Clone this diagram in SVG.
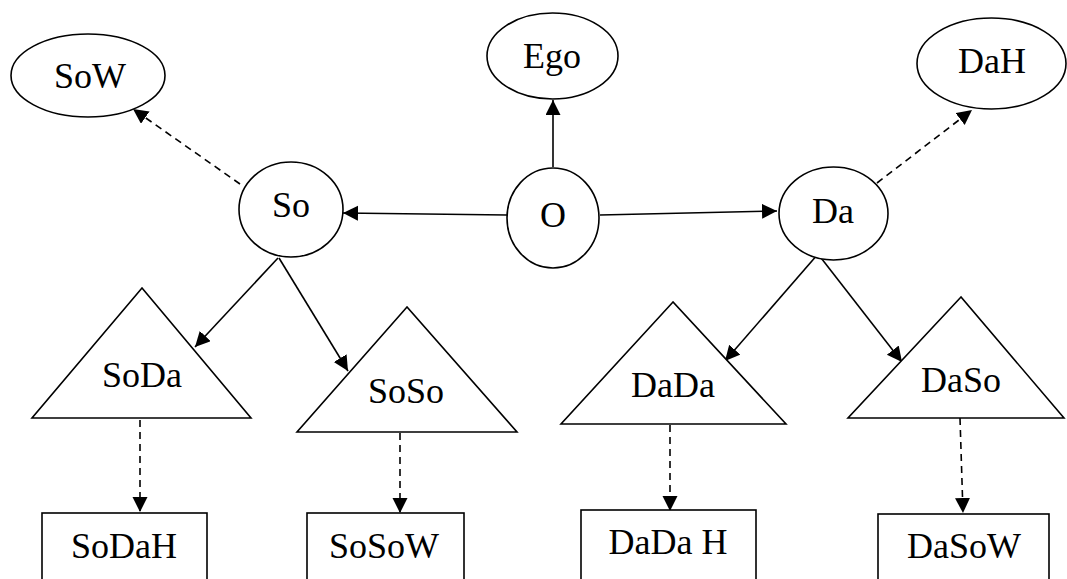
<svg xmlns="http://www.w3.org/2000/svg" width="1067" height="579" viewBox="0 0 1067 579">
  <style>
    .shape { fill: #fff; stroke: #000; stroke-width: 1.6; }
    .lbl { font-family: "Liberation Serif", "Times New Roman", serif; font-size: 36px; fill: #000; text-anchor: middle; }
    .edge { fill: none; stroke: #000; stroke-width: 1.6; marker-end: url(#arrow); }
    .dash { stroke-dasharray: 7 5; }
  </style>
  <defs>
    <marker id="arrow" markerUnits="userSpaceOnUse" markerWidth="16" markerHeight="16" refX="15" refY="7.5" orient="auto">
      <path d="M0,0 L15,7.5 L0,15 Z" fill="#000"/>
    </marker>
  </defs>
  <rect width="1067" height="579" fill="#fff"/>

  <!-- connectors -->
  <g id="connectors">
    <line class="edge" x1="553" y1="167" x2="553" y2="100"/>
    <line class="edge" x1="507" y1="215" x2="343" y2="213"/>
    <line class="edge" x1="600" y1="215" x2="777" y2="211"/>
    <line class="edge dash" x1="240" y1="184" x2="133" y2="109"/>
    <line class="edge dash" x1="877" y1="183" x2="972" y2="110"/>
    <line class="edge" x1="278" y1="258" x2="195" y2="347"/>
    <line class="edge" x1="279" y1="258" x2="348" y2="371"/>
    <line class="edge" x1="818" y1="254" x2="725" y2="361"/>
    <line class="edge" x1="818" y1="254" x2="902" y2="362"/>
    <line class="edge dash" x1="140" y1="420" x2="140" y2="512"/>
    <line class="edge dash" x1="400" y1="433" x2="400" y2="513"/>
    <line class="edge dash" x1="670" y1="425" x2="670" y2="511"/>
    <line class="edge dash" x1="960" y1="418" x2="963" y2="513"/>
  </g>

  <!-- ellipse nodes -->
  <g id="node-ego">
    <ellipse class="shape" cx="552.5" cy="56" rx="65.5" ry="43"/>
    <text class="lbl" x="552" y="68">Ego</text>
  </g>
  <g id="node-sow">
    <ellipse class="shape" cx="88" cy="75.5" rx="77" ry="41.5"/>
    <text class="lbl" x="90" y="88">SoW</text>
  </g>
  <g id="node-dah">
    <ellipse class="shape" cx="991.5" cy="63.5" rx="74.5" ry="45.5"/>
    <text class="lbl" x="992" y="73">DaH</text>
  </g>
  <g id="node-o">
    <ellipse class="shape" cx="553" cy="218" rx="46" ry="50"/>
    <text class="lbl" x="553" y="227">O</text>
  </g>
  <g id="node-so">
    <ellipse class="shape" cx="291" cy="209.5" rx="52" ry="47.5"/>
    <text class="lbl" x="291" y="217">So</text>
  </g>
  <g id="node-da">
    <ellipse class="shape" cx="833.5" cy="213.5" rx="54.5" ry="46.5"/>
    <text class="lbl" x="833" y="223">Da</text>
  </g>

  <!-- triangle nodes -->
  <g id="node-soda">
    <polygon class="shape" points="142,288 32,418 251,418"/>
    <text class="lbl" x="142" y="387">SoDa</text>
  </g>
  <g id="node-soso">
    <polygon class="shape" points="407,307 297,432 517,432"/>
    <text class="lbl" x="406" y="403">SoSo</text>
  </g>
  <g id="node-dada">
    <polygon class="shape" points="673,302 561,424 786,424"/>
    <text class="lbl" x="673" y="397">DaDa</text>
  </g>
  <g id="node-daso">
    <polygon class="shape" points="961,297 848,418 1064,418"/>
    <text class="lbl" x="961" y="392">DaSo</text>
  </g>

  <!-- box nodes -->
  <g id="node-sodah">
    <rect class="shape" x="42" y="513" width="165" height="80"/>
    <text class="lbl" x="124" y="558">SoDaH</text>
  </g>
  <g id="node-sosow">
    <rect class="shape" x="307" y="513" width="157" height="80"/>
    <text class="lbl" x="384" y="558">SoSoW</text>
  </g>
  <g id="node-dadah">
    <rect class="shape" x="581" y="510" width="175" height="80"/>
    <text class="lbl" x="668" y="554">DaDa H</text>
  </g>
  <g id="node-dasow">
    <rect class="shape" x="878" y="514" width="171" height="80"/>
    <text class="lbl" x="964" y="558">DaSoW</text>
  </g>
</svg>
